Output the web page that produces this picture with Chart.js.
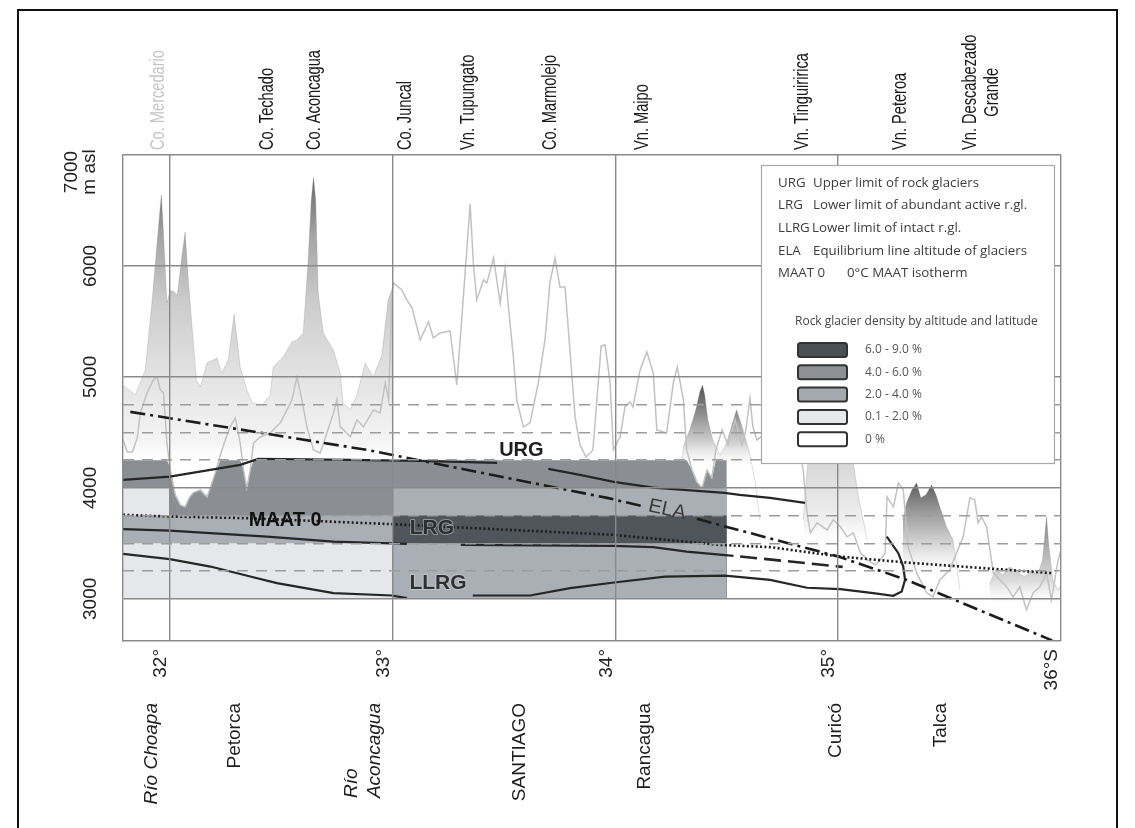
<!DOCTYPE html>
<html>
<head>
<meta charset="utf-8">
<script src="https://cdn.jsdelivr.net/npm/chart.js@4.4.1/dist/chart.umd.min.js"></script>
<style>
  html, body { margin: 0; padding: 0; background: #fff; }
  #frame { position: absolute; left: 17px; top: 9px; width: 1101px; height: 900px; border: 2px solid #111; box-sizing: border-box; }
  #wrap { position: absolute; left: 0; top: 0; width: 1135px; height: 828px; }
</style>
</head>
<body>
<div id="frame"></div>
<div id="wrap"><canvas id="profile" width="1135" height="828"></canvas></div>
<script>
// ---------------------------------------------------------------------------
// Axes
// ---------------------------------------------------------------------------
const latTicks = [32, 33, 34, 35, 36];
const latTickLabels = ['32°', '33°', '34°', '35°', '36°S'];
const altTicks = [3000, 4000, 5000, 6000, 7000];
const altTickLabels = ['3000', '4000', '5000', '6000', ['7000', 'm asl']];
const altBandEdges = [3250, 3500, 3750, 4250, 4500, 4750];

// Summits along the top, towns / rivers along the bottom (latitude °S)
const peakNames = ['Co. Mercedario', 'Co. Techado', 'Co. Aconcagua', 'Co. Juncal', 'Vn. Tupungato',
  'Co. Marmolejo', 'Vn. Maipo', 'Vn. Tinguiririca', 'Vn. Peteroa', ['Vn. Descabezado', 'Grande']];
const peakLats = [31.95, 32.44, 32.65, 33.06, 33.34, 33.71, 34.12, 34.84, 35.28, 35.645];
const placeNames = ['Río Choapa', 'Petorca', ['Río', 'Aconcagua'], 'SANTIAGO', 'Rancagua', 'Curicó', 'Talca'];
const placeLats = [31.92, 32.29, 32.87, 33.57, 34.13, 34.99, 35.46];
const placeIsRiver = [true, false, true, false, false, false, false];

// ---------------------------------------------------------------------------
// Topography: [latitude °S, altitude m]
// ---------------------------------------------------------------------------
// main divide (thin profile)
const divideProfile = [
  [31.790,4432],[31.809,4324],[31.832,4324],[31.854,4450],[31.868,4676],[31.898,4856],[31.926,4973],[31.943,5000],
  [31.957,4883],[31.972,4856],[31.987,4405],[32.002,4162],[32.025,3937],[32.047,3847],[32.069,3829],[32.087,3910],
  [32.105,3955],[32.137,3982],[32.167,3919],[32.186,4027],[32.204,4135],[32.227,4297],[32.249,4432],[32.271,4550],
  [32.294,4631],[32.316,4405],[32.331,4162],[32.346,4000],[32.361,4162],[32.376,4405],[32.406,4459],[32.451,4495],
  [32.496,4586],[32.526,4703],[32.548,4793],[32.571,5000],[32.593,4793],[32.615,4550],[32.645,4342],[32.675,4315],
  [32.705,4495],[32.735,4676],[32.750,4793],[32.765,4550],[32.780,4523],[32.810,4459],[32.840,4613],[32.869,4550],
  [32.914,4703],[32.944,4676],[32.967,4946],[32.982,4793],[32.997,5757],[33.004,5847],[33.042,5784],[33.064,5694],
  [33.087,5622],[33.124,5333],[33.161,5496],[33.183,5351],[33.213,5396],[33.258,5414],[33.288,4928],[33.311,5541],
  [33.333,6144],[33.348,6559],[33.363,6009],[33.378,5694],[33.408,5874],[33.423,5847],[33.453,6072],[33.483,5667],
  [33.505,5982],[33.518,5667],[33.542,5180],[33.557,4793],[33.587,4550],[33.617,4586],[33.654,4946],[33.684,5333],
  [33.706,5847],[33.729,6072],[33.751,5811],[33.774,5811],[33.796,5243],[33.819,4640],[33.841,4387],[33.868,4279],
  [33.899,4342],[33.917,4793],[33.936,5279],[33.954,5288],[33.976,4946],[33.991,4342],[34.021,4459],[34.043,4730],
  [34.066,4775],[34.079,4730],[34.111,5063],[34.141,5225],[34.170,5036],[34.186,4523],[34.230,4495],[34.260,4946],
  [34.278,5090],[34.305,4793],[34.320,4342],[34.344,4162],[34.366,4054],[34.389,4000],[34.411,4162],[34.433,4090],
  [34.451,4342],[34.479,4523],[34.505,4387],[34.537,4613],[34.568,4387],[34.586,4523],[34.604,4811],[34.617,4550],
  [34.635,4432],[34.694,4523],[34.761,4613],[34.807,4523],[34.843,4162],[34.860,3775],[34.875,3595],[34.905,3685],
  [34.950,3622],[34.978,3712],[35.010,3649],[35.040,3559],[35.068,3595],[35.100,3414],[35.131,3351],[35.166,3306],
  [35.189,3351],[35.211,3414],[35.219,3919],[35.248,3829],[35.270,4045],[35.292,3982],[35.314,3468],[35.352,3234],
  [35.397,3054],[35.426,3018],[35.456,3171],[35.501,3261],[35.531,3414],[35.561,3559],[35.591,3910],[35.613,3892],
  [35.628,3685],[35.643,3739],[35.666,3649],[35.696,3234],[35.726,3171],[35.756,3108],[35.785,3018],[35.815,3108],
  [35.845,2901],[35.875,3054],[35.905,3108],[35.935,3234],[35.957,2991],[35.987,3351],[36.000,3441]
];

// shaded summit massifs
const massifChoapaAconcagua = [
  [31.790,4928],[31.845,4838],[31.890,5063],[31.921,5694],[31.944,6234],[31.962,6640],[31.971,6324],[31.987,5667],
  [32.002,5784],[32.020,5766],[32.034,5739],[32.052,6054],[32.069,6306],[32.083,5874],[32.100,5450],[32.119,4973],
  [32.137,4910],[32.167,5126],[32.212,5171],[32.234,5036],[32.262,5153],[32.289,5568],[32.316,5090],[32.346,4883],
  [32.370,4766],[32.415,4748],[32.451,4838],[32.464,5090],[32.509,5180],[32.548,5315],[32.571,5333],[32.599,5396],
  [32.621,6054],[32.635,6595],[32.645,6802],[32.655,6595],[32.666,5757],[32.689,5396],[32.734,5243],[32.765,5036],
  [32.778,4766],[32.810,4703],[32.840,4838],[32.877,5126],[32.913,5000],[32.952,5198],[32.980,5694],[32.997,5784],
  [33.000,4250]
];
const massifMaipoSouth = [
  [34.300,4250],[34.307,4387],[34.334,4523],[34.361,4703],[34.379,4865],[34.391,4928],[34.401,4838],[34.415,4613],
  [34.437,4432],[34.469,4297],[34.496,4387],[34.523,4568],[34.544,4703],[34.566,4568],[34.586,4432],[34.604,4297],
  [34.626,4072],[34.648,3712]
];
const massifTinguiririca = [
  [34.843,3712],[34.861,4162],[34.880,4613],[34.920,4930],[34.980,4980],[35.030,4700],[35.053,4523],[35.066,4252],
  [35.089,3937],[35.112,3712],[35.130,3532]
];
const massifPeteroa = [
  [35.290,3712],[35.307,3865],[35.331,3982],[35.352,4045],[35.371,3910],[35.394,3937],[35.419,4027],[35.439,3937],
  [35.456,3829],[35.486,3649],[35.515,3532],[35.533,3288],[35.546,3081]
];
const massifDescabezado = [
  [35.679,3126],[35.706,3261],[35.738,3216],[35.769,3288],[35.805,3243],[35.837,3198],[35.868,3261],[35.895,3216],
  [35.917,3351],[35.935,3739],[35.945,3486],[35.963,3171],[35.985,3081],[36.000,3126]
];

// ---------------------------------------------------------------------------
// Rock glacier density by latitude and altitude
// class: 0 = 0 %, 1 = 0.1-2.0 %, 2 = 2.0-4.0 %, 3 = 4.0-6.0 %, 4 = 6.0-9.0 %
// ---------------------------------------------------------------------------
const densityLatBins = [31.79, 32.0, 33.0, 34.5];
const densityAltBins = [3000, 3500, 3750, 4000, 4250];
const densityClass = [
  [1, 2, 1, 3],   // 31.8-32.0°
  [1, 2, 3, 3],   // 32.0-33.0°
  [2, 4, 2, 3]    // 33.0-34.5°
];
const densityClassLabels = ['0 %', '0.1 - 2.0 %', '2.0 - 4.0 %', '4.0 - 6.0 %', '6.0 - 9.0 %'];

// ---------------------------------------------------------------------------
// Limits and isolines: [latitude, altitude]; null altitude = break for the label
// ---------------------------------------------------------------------------
const urgLimit = [[31.79,4072],[32.0,4102],[32.182,4162],[32.316,4207],[32.397,4261],[32.81,4252],[33.124,4243],
  [33.469,4225],[33.58,null],[33.699,4171],[33.841,4117],[33.993,4054],[34.17,4003],[34.49,3955],[34.558,3937],
  [34.694,3910],[34.851,3865]];
const lrgLimit = [[31.79,3628],[32.0,3615],[32.436,3561],[32.735,3516],[33.064,3495],[33.18,null],[33.306,3486],
  [33.993,3477],[34.17,3466],[34.32,3426],[34.53,3387]];
const lrgProjected = [[34.56,3382],[35.02,3288]];
const llrgLimit = [[31.79,3405],[32.0,3358],[32.182,3291],[32.361,3201],[32.481,3141],[32.735,3051],[32.997,3030],
  [33.064,3006],[33.2,null],[33.36,3030],[33.617,3030],[33.797,3096],[33.994,3147],[34.223,3201],[34.492,3210],
  [34.694,3171],[34.86,3100],[35.009,3087],[35.157,3051],[35.247,3027],[35.285,3066],[35.3,3171],[35.292,3291],
  [35.27,3411],[35.218,3561]];
const maatIsotherm = [[31.79,3757],[32.0,3742],[32.346,3727],[32.997,3673],[33.273,3646],[33.99,3577],[34.47,3486],
  [34.694,3466],[35.009,3381],[35.307,3327],[35.964,3231]];
const elaLine = [[31.823,4685],[32.886,4342],[33.963,3910],[34.115,3838],[34.24,null],[34.366,3722],[34.394,3705],
  [35.0,3381],[35.307,3171],[35.935,2646],[35.96,2625]];

const curveLabels = [
  { text: 'URG', lat: 33.578, alt: 4333 },
  { text: 'LRG', lat: 33.176, alt: 3635 },
  { text: 'LLRG', lat: 33.204, alt: 3144 },
  { text: 'MAAT 0', lat: 32.518, alt: 3707 },
  { text: 'ELA', lat: 34.232, alt: 3802 }
];

const legendRows = [
  ['URG', 'Upper limit of rock glaciers'],
  ['LRG', 'Lower limit of abundant active r.gl.'],
  ['LLRG', 'Lower limit of intact r.gl.'],
  ['ELA', 'Equilibrium line altitude of glaciers'],
  ['MAAT 0', '0°C MAAT isotherm']
];
const legendDensityTitle = 'Rock glacier density by altitude and latitude';

// ---------------------------------------------------------------------------
// Styling
// ---------------------------------------------------------------------------
const FONT = '"Liberation Sans", Arial, sans-serif';
const LEGEND_FONT = '"Open Sans", "Liberation Sans", sans-serif';
const classColors = ['#ffffff', '#e5e7ea', '#a9afb5', '#8b8f93', '#4f555a'];
const swatchColors = ['#ffffff', '#e6e8ea', '#a4aab0', '#8d9195', '#4b5054'];
const curveLabelStyle = [
  { font: 'bold 20px ' + FONT, color: '#1e1e1e', angle: 0 },
  { font: 'bold 21px ' + FONT, color: '#2c2f31', halo: 'rgba(150,155,160,0.9)', angle: 0 },
  { font: 'bold 21px ' + FONT, color: '#2e3032', halo: 'rgba(200,204,208,0.8)', angle: 0 },
  { font: 'bold 20px ' + FONT, color: '#111111', angle: 0 },
  { font: '20px ' + FONT, color: '#3a3a3a', angle: 12 }
];
const shadeStops = {
  choapa:      [[6850, '#626262'], [6250, '#a6a6a6'], [5700, '#cbcbcb'], [5200, '#dcdcdc'], [4800, '#e9e9e9'], [4400, '#f5f5f5'], [4250, 'rgba(250,250,250,0)']],
  maipo:       [[4930, '#4e4e4e'], [4650, '#939393'], [4400, '#d3d3d3'], [4200, 'rgba(240,240,240,0)']],
  tinguiririca:[[4600, '#c2c2c2'], [4200, '#d9d9d9'], [3700, '#f0f0f0'], [3500, 'rgba(250,250,250,0)']],
  peteroa:     [[4050, '#5a5a5a'], [3800, '#979797'], [3500, '#d4d4d4'], [3200, 'rgba(245,245,245,0)']],
  descabezado: [[3750, '#7e7e7e'], [3400, '#b8b8b8'], [3150, '#dedede'], [2950, 'rgba(245,245,245,0)']]
};

// ---------------------------------------------------------------------------
const pts = arr => arr.map(([x, y]) => ({ x, y }));

function altGradient(chart, stops) {
  const area = chart.chartArea, ys = chart.scales && chart.scales.y;
  if (!area || !ys) return stops[1][1];
  const p0 = ys.getPixelForValue(stops[0][0]);
  const p1 = ys.getPixelForValue(stops[stops.length - 1][0]);
  const g = chart.ctx.createLinearGradient(0, p0, 0, p1);
  stops.forEach(([alt, c]) => g.addColorStop((ys.getPixelForValue(alt) - p0) / (p1 - p0), c));
  return g;
}

function divideAltAt(lat) {
  for (let i = 1; i < divideProfile.length; i++) {
    const [x0, y0] = divideProfile[i - 1], [x1, y1] = divideProfile[i];
    if (lat >= x0 && lat <= x1) return y0 + (y1 - y0) * (lat - x0) / (x1 - x0);
  }
  return divideProfile[divideProfile.length - 1][1];
}

// density cells: each cell is filled from its upper edge (cut by the divide) down to the base,
// upper rows are painted first so that lower rows cover them
const cellDatasets = [];
densityClass.forEach((column, ci) => {
  const lat0 = densityLatBins[ci], lat1 = densityLatBins[ci + 1];
  column.forEach((cls, ri) => {
    const top = densityAltBins[ri + 1];
    const edge = [{ x: lat0, y: Math.min(top, divideAltAt(lat0)) }];
    divideProfile.forEach(([la, al]) => { if (la > lat0 && la < lat1) edge.push({ x: la, y: Math.min(top, al) }); });
    edge.push({ x: lat1, y: Math.min(top, divideAltAt(lat1)) });
    cellDatasets.push({
      data: edge, fill: { value: densityAltBins[0] }, backgroundColor: classColors[cls],
      borderColor: 'rgba(0,0,0,0)', borderWidth: 0, order: 20 + ri
    });
  });
});

const massif = (data, stops) => ({
  data: pts(data), fill: 'start', order: 30,
  backgroundColor: ctx => altGradient(ctx.chart, stops),
  borderColor: 'rgba(120,120,120,0.3)', borderWidth: 0.8
});

const datasets = [
  { data: pts(elaLine), borderColor: '#1c1c1c', borderWidth: 2.6, borderDash: [15, 5, 3, 5], fill: false, order: 1 },
  { data: pts(urgLimit), borderColor: '#262626', borderWidth: 2.2, fill: false, order: 2 },
  { data: pts(lrgLimit), borderColor: '#262626', borderWidth: 2.2, fill: false, order: 2 },
  { data: pts(lrgProjected), borderColor: '#262626', borderWidth: 2.6, borderDash: [17, 7], fill: false, order: 2 },
  { data: pts(llrgLimit), borderColor: '#262626', borderWidth: 2.2, fill: false, order: 2 },
  { data: pts(maatIsotherm), borderColor: '#1e1e1e', borderWidth: 2.6, borderDash: [2, 2.4], fill: false, order: 3 },
  { data: pts(divideProfile), borderColor: '#c2c2c2', borderWidth: 1.5, fill: false, order: 10 },
  ...cellDatasets,
  massif(massifChoapaAconcagua, shadeStops.choapa),
  massif(massifMaipoSouth, shadeStops.maipo),
  massif(massifTinguiririca, shadeStops.tinguiririca),
  massif(massifPeteroa, shadeStops.peteroa),
  massif(massifDescabezado, shadeStops.descabezado)
];

// ---------------------------------------------------------------------------
// Text drawn around and inside the plot
// ---------------------------------------------------------------------------
function rotatedLines(ctx, label, cx, cy, o) {
  const lines = [].concat(label);
  ctx.save();
  ctx.font = o.font; ctx.fillStyle = o.color;
  ctx.translate(cx, cy); ctx.rotate(-Math.PI / 2); ctx.scale(o.scaleX || 1, 1);
  ctx.textBaseline = 'middle';
  const maxW = Math.max(...lines.map(t => ctx.measureText(t).width));
  lines.forEach((t, i) => {
    const dy = (i - (lines.length - 1) / 2) * (o.lineGap || 0);
    if (o.mode === 'fromStart') { ctx.textAlign = 'center'; ctx.fillText(t, maxW / 2, dy); }
    else if (o.mode === 'toEnd') { ctx.textAlign = 'left'; ctx.fillText(t, -maxW, dy); }
    else { ctx.textAlign = 'center'; ctx.fillText(t, 0, dy); }
  });
  ctx.restore();
}

const annotate = {
  id: 'annotate',
  afterDraw(chart) {
    const { ctx, chartArea: a } = chart;
    const xs = chart.scales.x, ys = chart.scales.y;

    // altitude labels
    altTicks.forEach((v, i) => {
      const lab = altTickLabels[i];
      if (Array.isArray(lab)) {
        rotatedLines(ctx, lab, 81, ys.getPixelForValue(v) + 17, { font: '19px ' + FONT, color: '#222', lineGap: 18 });
      } else {
        rotatedLines(ctx, lab, 91, ys.getPixelForValue(v), { font: '19px ' + FONT, color: '#222' });
      }
    });
    // latitude labels
    latTicks.forEach((v, i) => {
      rotatedLines(ctx, latTickLabels[i], xs.getPixelForValue(v) - 9, a.bottom + 8, { font: '19px ' + FONT, color: '#222', mode: 'toEnd' });
    });
    // summit names
    peakNames.forEach((n, i) => {
      rotatedLines(ctx, n, xs.getPixelForValue(peakLats[i]), a.top - 5,
        { font: '19.5px ' + FONT, color: i === 0 ? '#c6c6c6' : '#1a1a1a', scaleX: 0.75, mode: 'fromStart', lineGap: 22 });
    });
    // towns and rivers
    placeNames.forEach((n, i) => {
      rotatedLines(ctx, n, xs.getPixelForValue(placeLats[i]), a.bottom + 62,
        { font: (placeIsRiver[i] ? 'italic ' : '') + '19px ' + FONT, color: '#1e1e1e', mode: 'toEnd', lineGap: 23 });
    });

    // curve labels
    curveLabels.forEach((l, i) => {
      const st = curveLabelStyle[i];
      ctx.save();
      ctx.translate(xs.getPixelForValue(l.lat), ys.getPixelForValue(l.alt));
      ctx.rotate(st.angle * Math.PI / 180);
      ctx.font = st.font; ctx.textAlign = 'center'; ctx.textBaseline = 'middle';
      if (st.halo) { ctx.strokeStyle = st.halo; ctx.lineWidth = 2; ctx.lineJoin = 'round'; ctx.strokeText(l.text, 0, 0); }
      ctx.fillStyle = st.color;
      ctx.fillText(l.text, 0, 0);
      ctx.restore();
    });

    // legend box
    const L = { x: a.right - 300, y: a.top + 10, w: 293, h: 298 };
    ctx.save();
    ctx.fillStyle = '#ffffff'; ctx.fillRect(L.x, L.y, L.w, L.h);
    ctx.strokeStyle = '#a9a9a9'; ctx.lineWidth = 1.2; ctx.strokeRect(L.x + 0.5, L.y + 0.5, L.w, L.h);
    ctx.fillStyle = '#3d3d3d'; ctx.textBaseline = 'middle'; ctx.textAlign = 'left';
    ctx.font = '13.3px ' + LEGEND_FONT;
    const descOffset = [52, 52, 51, 52, 86];
    legendRows.forEach(([abbr, desc], i) => {
      const yy = L.y + 18 + i * 22.6;
      ctx.fillText(abbr, L.x + 17, yy);
      ctx.fillText(desc, L.x + descOffset[i], yy);
    });
    ctx.font = '12px ' + LEGEND_FONT; ctx.fillStyle = '#444';
    ctx.fillText(legendDensityTitle, L.x + 34, L.y + 157);
    for (let k = 0; k < densityClassLabels.length; k++) {
      const cls = densityClassLabels.length - 1 - k;
      const sy = L.y + 178 + k * 22.3;
      ctx.beginPath();
      ctx.roundRect(L.x + 37, sy, 49, 14, 2.5);
      ctx.fillStyle = swatchColors[cls]; ctx.fill();
      ctx.strokeStyle = '#333'; ctx.lineWidth = 2; ctx.stroke();
      ctx.fillStyle = '#555'; ctx.font = '12px ' + LEGEND_FONT;
      ctx.fillText(densityClassLabels[cls], L.x + 104, sy + 7);
    }
    ctx.restore();
  }
};

const GRID = '#8a8a8a';
new Chart(document.getElementById('profile'), {
  type: 'line',
  data: { datasets },
  options: {
    responsive: false,
    animation: false,
    devicePixelRatio: 1,
    layout: { padding: { left: 123, right: 74, top: 155, bottom: 187 } },
    elements: { point: { radius: 0 }, line: { tension: 0 } },
    plugins: { legend: { display: false }, tooltip: { enabled: false } },
    scales: {
      x: {
        type: 'linear', min: 31.79, max: 36.0,
        afterBuildTicks: s => { s.ticks = latTicks.map(v => ({ value: v })); },
        afterFit: s => { s.height = 0; },
        ticks: { display: false },
        grid: { color: GRID, lineWidth: 1.4, drawTicks: false, z: 1 },
        border: { display: true, color: GRID, width: 1.4, z: 1 }
      },
      y: {
        type: 'linear', min: 2620, max: 7000,
        afterBuildTicks: s => { s.ticks = altTicks.map(v => ({ value: v })); },
        afterFit: s => { s.width = 0; },
        ticks: { display: false },
        grid: { color: GRID, lineWidth: 1.4, drawTicks: false, z: 1 },
        border: { display: true, color: GRID, width: 1.4, z: 1 }
      },
      yBands: {
        type: 'linear', position: 'left', min: 2620, max: 7000,
        afterBuildTicks: s => { s.ticks = altBandEdges.map(v => ({ value: v })); },
        afterFit: s => { s.width = 0; },
        ticks: { display: false },
        grid: { color: '#9c9c9c', lineWidth: 1.5, drawTicks: false, z: 1 },
        border: { display: false, dash: [11, 8] }
      }
    }
  },
  plugins: [annotate]
});
</script>
</body>
</html>
